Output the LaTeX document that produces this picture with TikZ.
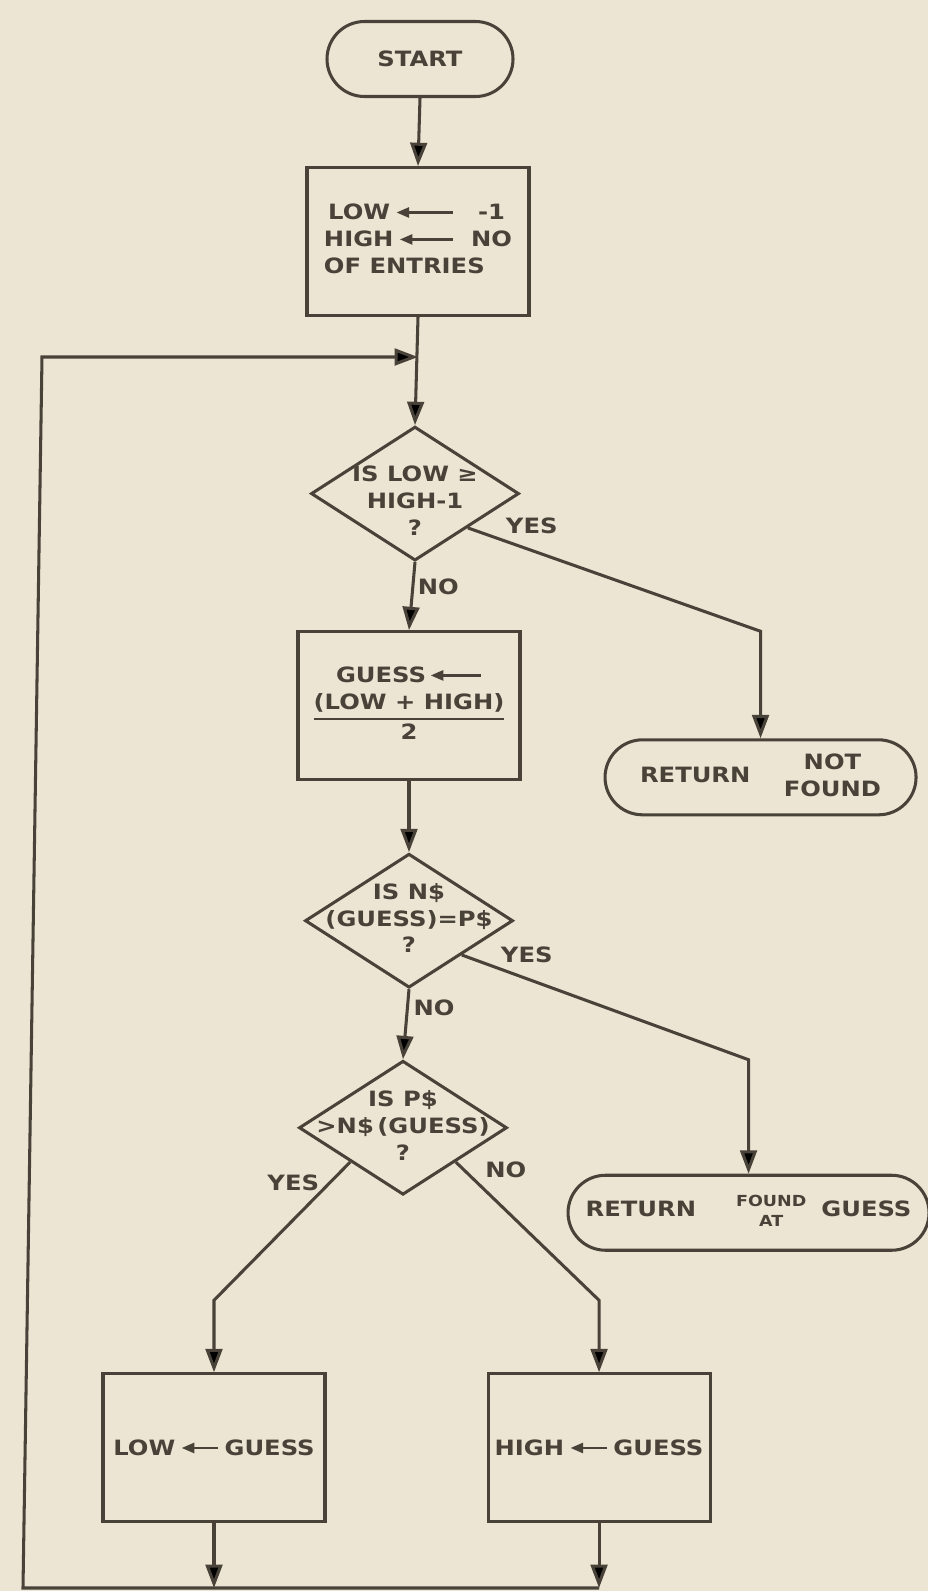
\documentclass[tikz,border=0pt]{standalone}
\usepackage{fontspec}
\setmainfont{DejaVu Sans Bold}[FakeStretch=1.15]
\usepackage{tikz}
\usetikzlibrary{positioning, arrows.meta, shapes.geometric, shapes.misc, calc}

\definecolor{paper}{RGB}{236,229,211}
\definecolor{ink}{RGB}{72,66,57}
\setlength{\arrayrulewidth}{2pt}

% small assignment arrow used inside the boxes
\newcommand{\assign}[1]{\tikz[baseline=-0.65ex]\draw[ink, line width=2.2pt, -{Triangle[length=3.8mm, width=3mm]}] (#1,0) -- (0,0);}
% text for the decision diamonds (does not widen the shape)
\newcommand{\dtext}[2][-1.5mm]{\smash{\makebox[0pt]{\raisebox{#1}{\begin{tabular}{@{}c@{}}#2\end{tabular}}}}}

\begin{document}
\begin{tikzpicture}[x=0.3mm, y=-0.3mm, >={Triangle[length=7mm, width=5mm]},
    every node/.style={text=ink, font=\fontsize{18}{23}\selectfont},
    term/.style={draw=ink, line width=2.6pt, rounded rectangle, minimum height=22.5mm, inner sep=0pt},
    box/.style={draw=ink, line width=2.6pt, rectangle, minimum width=66.6mm, minimum height=44.4mm, inner sep=0pt},
    decision/.style={draw=ink, line width=2.6pt, diamond, minimum width=62.4mm, minimum height=40.2mm, inner sep=0pt},
    lbl/.style={inner sep=0pt},
    flow/.style={draw=ink, line width=2.6pt}]
        \fill[paper] (0,0) rectangle (928,1591);
        \useasboundingbox (0,0) rectangle (928,1591);

        % Nodes
        \node (start) [term, minimum width=55.8mm] at (420,59) {START};
        \node (init) [box, below=20.4mm of start, xshift=-0.6mm] {\begin{tabular}{@{}r@{\hspace{5mm}}c@{}}LOW\hspace{1.5mm}\assign{17mm} & -1\\ HIGH\hspace{1.5mm}\assign{16mm} & NO\\ \multicolumn{2}{@{}l@{}}{OF ENTRIES}\end{tabular}};
        \node (dec1) [decision, below=32.4mm of init, xshift=-0.9mm] {\dtext[-4.5mm]{IS LOW ≥\\HIGH-1\\?}};
        \node (guess) [box, below=20.4mm of dec1, xshift=-1.8mm] {\begin{tabular}{@{}c@{}}GUESS\hspace{1mm}\assign{15mm}\\(LOW + HIGH)\\\hline 2\end{tabular}};
        \node (dec2) [decision, below=21.3mm of guess] {\dtext{IS N\$\\(GUESS)=P\$\\?}};
        \node (dec3) [decision, below=21mm of dec2, xshift=-1.8mm] {\dtext{IS P\$\\>N\$\,(GUESS)\\?}};

        \node (notfound) [term, minimum width=93.3mm, right=24.6mm of guess, yshift=-21.5mm] {RETURN\hspace{10mm}\begin{tabular}{@{}c@{}}NOT\\FOUND\end{tabular}};
        \node (found) [term, minimum width=108.3mm, right=17.4mm of dec3, yshift=-25.5mm] {RETURN\hspace{12mm}{\fontsize{13}{17}\selectfont\begin{tabular}{@{}c@{}}FOUND\\AT\end{tabular}}\hspace{4.5mm}GUESS};

        \node (low) [box, below=52.8mm of dec3, xshift=-56.7mm] {LOW\hspace{1.5mm}\assign{11mm}\hspace{1.5mm}GUESS};
        \node (high) [box, right=48mm of low] {HIGH\hspace{1.5mm}\assign{11mm}\hspace{1.5mm}GUESS};

        \coordinate (bl) at (23,1588);
        \coordinate (tl) at (42,357);
        \coordinate (join) at (init.south |- tl);

        % Arrows
        \draw[flow, ->] (start.south) -- (init.north);
        \draw[flow, ->] (init.south) -- (dec1.north);
        \draw[flow, ->] (dec1.south) -- node[lbl, at start, xshift=7mm, yshift=-7.5mm] {NO} (guess.north);
        \draw[flow, ->] (dec1.south east) -- node[lbl, at start, xshift=19.2mm, yshift=0.6mm] {YES} ($(notfound.north)+(0,-107)$) -- (notfound.north);
        \draw[flow, ->] (guess.south) -- (dec2.north);
        \draw[flow, ->] (dec2.south) -- node[lbl, at start, xshift=7.5mm, yshift=-5.7mm] {NO} (dec3.north);
        \draw[flow, ->] (dec2.south east) -- node[lbl, at start, xshift=19.5mm] {YES} ($(found.north)+(0,-114)$) -- (found.north);
        \draw[flow, ->] (dec3.south west) -- node[lbl, at start, xshift=-17.1mm, yshift=-6.3mm] {YES} ($(low.north)+(0,-72)$) -- (low.north);
        \draw[flow, ->] (dec3.south east) -- node[lbl, at start, xshift=15mm, yshift=-2.4mm] {NO} ($(high.north)+(0,-72)$) -- (high.north);
        \draw[flow, ->] (low.south) -- (low.south |- bl);
        \draw[flow, ->] (high.south) -- (high.south |- bl);
        \draw[flow, ->] (high.south |- bl) -- (bl) -- (tl) -- (join);

    \end{tikzpicture}
\end{document}
